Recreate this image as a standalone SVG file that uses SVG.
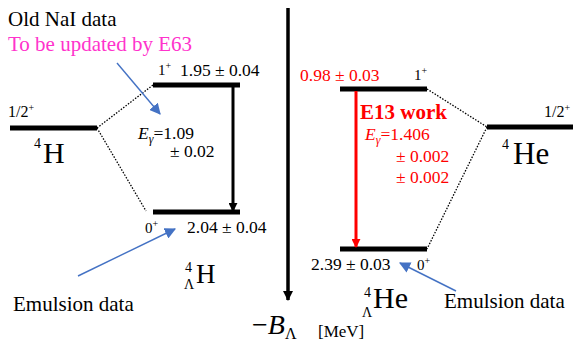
<svg xmlns="http://www.w3.org/2000/svg" width="573" height="343" viewBox="0 0 573 343" font-family="'Liberation Serif', 'DejaVu Serif', serif">
<style>
text{font-family:'Liberation Serif','DejaVu Serif',serif;fill:#000}
.n{font-size:17.5px}
.l{font-size:21px}
.r{fill:#ff0000}
.m{fill:#ff33cc}
.lvl{stroke:#000;stroke-width:5;fill:none}
.dot{stroke:#000;stroke-width:1.3;stroke-dasharray:1.5 1.5;fill:none}
.blue{stroke:#4472c4;stroke-width:1.4;fill:none}
</style>
<defs>
<marker id="ab" viewBox="0 0 10 10" refX="9" refY="5" markerWidth="3" markerHeight="3" orient="auto" markerUnits="strokeWidth"><path d="M0,0 L10,5 L0,10 Z" fill="#000"/></marker>
<marker id="ar" viewBox="0 0 10 10" refX="9" refY="5" markerWidth="3" markerHeight="3" orient="auto" markerUnits="strokeWidth"><path d="M0,0 L10,5 L0,10 Z" fill="#ff0000"/></marker>
<marker id="abl" viewBox="0 0 10 10" refX="9" refY="5" markerWidth="8" markerHeight="8" orient="auto" markerUnits="strokeWidth"><path d="M0,0 L10,5 L0,10 Z" fill="#4472c4"/></marker>
</defs>

<g id="axis">
<line x1="288" y1="8" x2="288" y2="300" stroke="#000" stroke-width="3.5" marker-end="url(#ab)"/>
<text x="252" y="334" font-size="28"><tspan>−</tspan><tspan font-style="italic">B</tspan><tspan font-size="16" dy="5">Λ</tspan></text>
<text x="318" y="337" font-size="17">[MeV]</text>
</g>

<g id="n4H">
<line class="lvl" x1="10" y1="128" x2="97" y2="128"/>
<text x="8" y="117" font-size="16">1/2<tspan font-size="10" dy="-6">+</tspan></text>
<text x="34" y="148" font-size="14">4</text>
<text x="43" y="163" font-size="30">H</text>
</g>

<g id="hyp4H-1">
<line class="lvl" x1="153" y1="85" x2="240" y2="85"/>
<text x="158" y="75" font-size="15">1<tspan font-size="10" dy="-6">+</tspan></text>
<text class="n" x="180" y="76">1.95 ± 0.04</text>
</g>

<g id="hyp4H-0">
<line class="lvl" x1="153" y1="212" x2="240" y2="212"/>
<text x="145" y="233" font-size="15">0<tspan font-size="10" dy="-6">+</tspan></text>
<text class="n" x="187" y="233">2.04 ± 0.04</text>
<text x="185" y="272" font-size="14">4</text>
<text x="184" y="289" font-size="14">Λ</text>
<text x="196" y="283" font-size="27">H</text>
</g>

<g id="n4He">
<line class="lvl" x1="487" y1="127" x2="573" y2="127"/>
<text x="544" y="117" font-size="16">1/2<tspan font-size="10" dy="-6">+</tspan></text>
<text x="502" y="149" font-size="14">4</text>
<text x="513" y="164" font-size="31">He</text>
</g>

<g id="hyp4He-1">
<line class="lvl" x1="340" y1="89" x2="427" y2="89"/>
<text class="n r" x="300" y="81">0.98 ± 0.03</text>
<text x="414" y="80" font-size="15">1<tspan font-size="10" dy="-6">+</tspan></text>
</g>

<g id="hyp4He-0">
<line class="lvl" x1="340" y1="249" x2="427" y2="249"/>
<text class="n" x="311" y="270">2.39 ± 0.03</text>
<text x="417" y="270" font-size="15">0<tspan font-size="10" dy="-6">+</tspan></text>
<text x="364" y="297" font-size="14">4</text>
<text x="362" y="317" font-size="14">Λ</text>
<text x="373" y="308" font-size="30">He</text>
</g>

<g id="labels">
<text class="l" x="8" y="26">Old NaI data</text>
<text class="l m" x="8" y="51">To be updated by E63</text>
<text class="n" x="138" y="139"><tspan font-style="italic">E</tspan><tspan font-size="12" font-style="italic" dy="4">γ</tspan><tspan dy="-4">=1.09</tspan></text>
<text class="n" x="170" y="157">± 0.02</text>
<text class="l" x="13" y="311">Emulsion data</text>
<text class="l" x="444" y="308">Emulsion data</text>
<text class="r" x="360" y="119" font-size="21" font-weight="bold">E13 work</text>
<text class="n r" x="365" y="140"><tspan font-style="italic">E</tspan><tspan font-size="12" font-style="italic" dy="4">γ</tspan><tspan dy="-4">=1.406</tspan></text>
<text class="n r" x="396" y="162">± 0.002</text>
<text class="n r" x="396" y="183">± 0.002</text>
</g>

<g id="connectors">
<line class="dot" x1="97" y1="128" x2="153" y2="85"/>
<line class="dot" x1="97" y1="128" x2="146" y2="211"/>
<line class="dot" x1="427" y1="89" x2="487" y2="127"/>
<line class="dot" x1="487" y1="127" x2="427" y2="249"/>
<line x1="233" y1="87" x2="233" y2="211" stroke="#000" stroke-width="3" marker-end="url(#ab)"/>
<line x1="356" y1="91" x2="356" y2="247" stroke="#ff0000" stroke-width="3" marker-end="url(#ar)"/>
<line class="blue" x1="117" y1="63" x2="160" y2="114" marker-end="url(#abl)"/>
<line class="blue" x1="78" y1="276" x2="175" y2="229" marker-end="url(#abl)"/>
<line class="blue" x1="456" y1="291" x2="400" y2="263" marker-end="url(#abl)"/>
</g>
</svg>
